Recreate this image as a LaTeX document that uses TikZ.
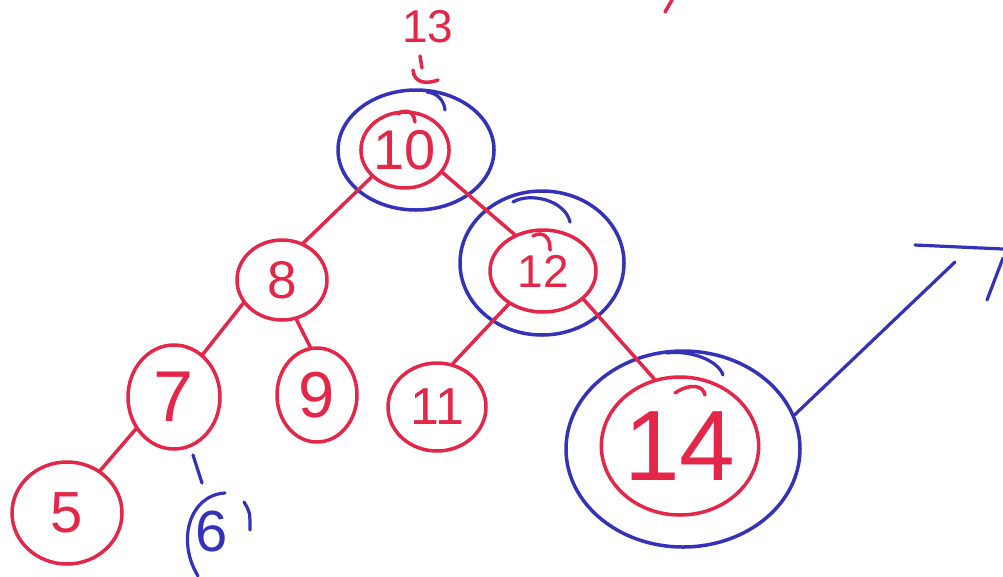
\documentclass[tikz,border=0pt]{standalone}
\usepackage{fontspec}
\setmainfont{Liberation Sans}
\usetikzlibrary{shapes.geometric}
\definecolor{penred}{RGB}{228,38,72}
\definecolor{penblue}{RGB}{52,50,185}
\begin{document}
\begin{tikzpicture}[x=1pt,y=-1pt,
  rnode/.style={ellipse, draw=penred, line width=3.5pt, text=penred, inner sep=0pt},
  bring/.style={ellipse, draw=penblue, line width=3.5pt, inner sep=0pt},
  redline/.style={draw=penred, line width=3.5pt, line cap=round},
  blueline/.style={draw=penblue, line width=3.2pt, line cap=round},
  fs/.style={font=\fontsize{#1}{#1}\selectfont}]
\useasboundingbox[fill=white] (0,0) rectangle (1003,576);

% blue rings
\node[bring, minimum width=156pt, minimum height=120pt] (b10) at (416,150) {};
\node[bring, minimum width=164pt, minimum height=144pt] (b12) at (542,263) {};
\node[bring, minimum width=234pt, minimum height=196pt] (b14) at (683,449) {};

% red nodes
\node[rnode, minimum width=86pt, minimum height=76pt, fs=56] (n10) at (405,150) {10};
\node[rnode, minimum width=90pt, minimum height=80pt, fs=53] (n8) at (282,280) {8};
\node[rnode, minimum width=106pt, minimum height=82pt, fs=46] (n12) at (543,271) {12};
\node[rnode, minimum width=92pt, minimum height=104pt, fs=72] (n7) at (174,397) {7};
\node[rnode, minimum width=80pt, minimum height=94pt, fs=65] (n9) at (317,395) {9};
\node[rnode, minimum width=98pt, minimum height=88pt, fs=52] (n11) at (437,407) {11};
\node[rnode, minimum width=154pt, minimum height=138pt, fs=100] (n14) at (680,446) {14};
\node[rnode, minimum width=110pt, minimum height=102pt, fs=58] (n5) at (67,513) {5};
\node[text=penblue, fs=58, inner sep=0pt] (n6) at (212,532) {6};
\node[text=penred, fs=46, inner sep=0pt] (n13) at (428,27) {13};

% edges
\draw[redline] (n10.219) -- (n8.60);
\draw[redline] (n10.329) -- (n12.128);
\draw[redline] (n8.211) -- (n7.56);
\draw[redline] (n8.290) -- (n9.98);
\draw[redline] (n12.224) -- (n11.70);
\draw[redline] (n12.325) -- (n14.111);
\draw[redline] (n7.220) -- (n5.52);

% small hooks and marks
\draw[redline] (420,56) -- (422,68);
\draw[redline] (413,70) .. controls (414,84) and (428,84) .. (438,80);
\draw[redline] (398,114) .. controls (406,108) and (414,112) .. (415,122);
\draw[redline] (533,236) .. controls (543,230) and (551,238) .. (550,250);
\draw[redline] (675,393) .. controls (690,383) and (703,385) .. (705,395);
\draw[redline] (665,12) -- (672,0);
\draw[blueline] (427,92) .. controls (437,93) and (444,100) .. (445,110);
\draw[blueline] (513,202) .. controls (530,192) and (565,200) .. (570,222);
\draw[blueline] (667,353) .. controls (690,350) and (718,360) .. (723,375);

% around 6
\coordinate (t1) at (193,455);
\coordinate (t2) at (202,483);
\draw[blueline] (t1) -- (t2);
\draw[blueline] (225,493) .. controls (190,495) and (176,540) .. (198,576);
\draw[blueline] (244,502) .. controls (250,512) .. (250,530);

% arrow at right
\coordinate (a1) at (955,262);
\coordinate (a2) at (915,245);
\coordinate (a3) at (1003,249);
\coordinate (a4) at (1003,258);
\coordinate (a5) at (987,300);
\draw[blueline] (b14.17) -- (a1);
\draw[blueline] (a2) -- (a3);
\draw[blueline] (a4) -- (a5);
\end{tikzpicture}
\end{document}
